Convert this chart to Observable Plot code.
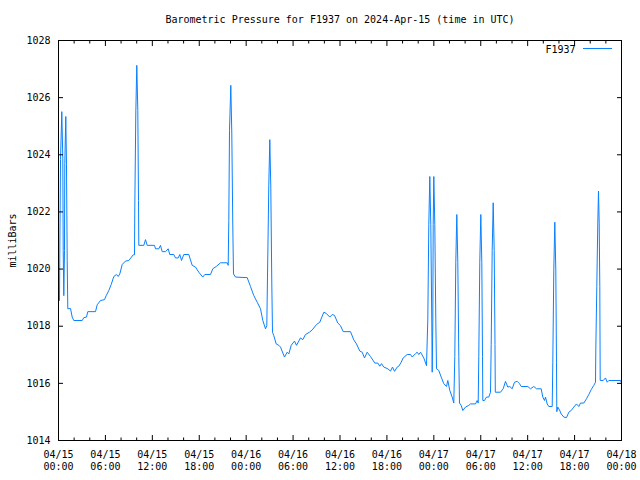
<!DOCTYPE html>
<html>
<head>
<meta charset="utf-8">
<script src="https://cdn.jsdelivr.net/npm/d3@7"></script>
<script src="https://cdn.jsdelivr.net/npm/@observablehq/plot@0.6"></script>
<style>
  html, body { margin: 0; padding: 0; background: #ffffff; }
  #chart svg { display: block; }
</style>
</head>
<body>
<div id="chart"></div>
<script>
const title = "Barometric Pressure for F1937 on 2024-Apr-15 (time in UTC)";
const seriesName = "F1937";
const yLabel = "milliBars";
const startTime = "2024-04-15T00:00:00Z";

// hours since 2024-04-15 00:00 UTC
const hours = [
  0.128, 0.166, 0.256, 0.422, 0.550, 0.601, 0.678, 0.767, 0.806, 0.934, 1.023, 1.113, 1.189,
  1.535, 1.752, 1.957, 3.031, 3.236, 3.581, 3.747, 4.732, 4.949, 5.371, 5.883, 6.100, 6.433,
  6.740, 7.072, 7.417, 7.635, 7.839, 8.146, 8.568, 8.990, 9.336, 9.553, 9.719,
  9.758, 9.886, 10.013, 10.141, 10.231, 10.269,
  10.909, 11.126, 11.343, 12.277, 12.405, 12.827, 13.044, 13.262, 13.684, 14.029, 14.234,
  14.745, 14.963, 15.308, 15.513, 15.730, 16.024, 16.664, 17.098, 17.520, 17.942, 18.454,
  18.710, 19.439, 19.733, 20.168, 20.718, 21.574, 21.702,
  21.779, 21.869, 22.035, 22.163, 22.291, 22.380,
  22.636, 24.132, 24.554, 24.976, 25.411, 25.833, 26.127, 26.472, 26.639,
  26.728, 26.894, 27.022, 27.150, 27.278, 27.368,
  27.534, 27.841, 28.173, 28.391, 28.902, 29.248, 29.452, 29.759, 30.181, 30.437, 30.948,
  31.242, 31.588, 32.099, 32.445, 32.995, 33.417, 33.928, 34.235, 34.696, 35.002, 35.297,
  35.719, 36.064, 36.409, 37.343, 37.765, 38.110, 38.532, 38.839, 39.133, 39.478, 39.900,
  40.450, 40.834, 41.090, 41.307, 41.601, 42.113, 42.458, 42.714, 42.970, 43.315, 43.519,
  43.826, 44.082, 44.593, 45.016, 45.233, 45.655, 45.872, 46.077, 46.295, 46.717, 47.062,
  47.228, 47.356, 47.484, 47.612, 47.740, 47.791, 47.868, 47.919, 47.996, 48.124, 48.252, 48.341,
  48.635, 48.942, 49.274, 49.620, 49.786, 50.042, 50.349, 50.553,
  50.681, 50.809, 50.937, 51.065, 51.193, 51.282,
  51.500, 51.705, 52.050, 52.472, 52.689, 53.328, 53.546, 53.674,
  53.750, 53.878, 54.006, 54.134, 54.224, 54.262,
  54.479, 54.735, 55.029, 55.247,
  55.336, 55.464, 55.592, 55.720, 55.822, 55.861,
  56.526, 56.871, 57.165, 57.459, 57.715, 58.022, 58.316, 58.661, 58.955, 59.172, 60.017,
  60.362, 60.784, 61.130, 61.731, 61.935, 62.153, 62.281, 62.498, 62.703, 63.138,
  63.214, 63.342, 63.470, 63.598, 63.687, 63.726,
  63.854, 64.071, 64.289, 64.621, 64.966, 65.262, 65.568, 65.900, 66.245, 66.539, 66.757,
  67.178, 67.524, 67.818, 68.125, 68.457, 68.675,
  68.713, 68.841, 68.969, 69.058, 69.148, 69.225, 69.276,
  69.660, 69.954, 70.171, 70.376, 71.872, 72.000
];

// pressure in milliBars
const pressure = [
  1018.90, 1020.56, 1023.83, 1025.51, 1023.88, 1020.65, 1019.07, 1020.65, 1023.70, 1025.34, 1023.65, 1020.30, 1018.61,
  1018.62, 1018.32, 1018.20, 1018.20, 1018.30, 1018.32, 1018.51, 1018.51, 1018.75, 1018.90, 1018.93, 1019.07, 1019.25,
  1019.46, 1019.74, 1019.81, 1019.74, 1019.83, 1020.16, 1020.28, 1020.30, 1020.42, 1020.50, 1020.50,
  1022.17, 1025.46, 1027.13, 1025.55, 1022.40, 1020.83,
  1020.83, 1021.03, 1020.83, 1020.83, 1020.71, 1020.71, 1020.83, 1020.61, 1020.61, 1020.71, 1020.51,
  1020.51, 1020.39, 1020.39, 1020.51, 1020.30, 1020.51, 1020.51, 1020.13, 1020.07, 1019.89, 1019.72,
  1019.81, 1019.81, 1020.01, 1020.09, 1020.22, 1020.22, 1020.13,
  1021.70, 1024.85, 1026.43, 1024.73, 1021.47, 1019.83,
  1019.72, 1019.70, 1019.39, 1019.07, 1018.84, 1018.61, 1018.20, 1017.91, 1018.02,
  1019.72, 1022.93, 1024.53, 1022.87, 1019.48, 1017.79,
  1017.67, 1017.38, 1017.33, 1017.27, 1016.92, 1017.09, 1017.03, 1017.33, 1017.48, 1017.33, 1017.59,
  1017.53, 1017.71, 1017.79, 1017.87, 1018.06, 1018.14, 1018.49, 1018.45, 1018.32, 1018.41, 1018.38,
  1018.11, 1018.02, 1017.81, 1017.81, 1017.52, 1017.38, 1017.13, 1017.09, 1016.89, 1017.09, 1016.94,
  1016.71, 1016.71, 1016.60, 1016.69, 1016.57, 1016.51, 1016.43, 1016.57, 1016.42, 1016.57, 1016.60,
  1016.74, 1016.89, 1017.01, 1017.01, 1016.92, 1017.04, 1017.09, 1017.01, 1017.09, 1016.89, 1016.62,
  1018.22, 1021.55, 1023.24, 1021.55, 1018.11, 1016.39, 1018.11, 1021.55, 1023.24, 1021.55, 1018.22, 1016.51,
  1016.45, 1016.22, 1015.99, 1015.89, 1016.10, 1015.75, 1015.52, 1015.31,
  1016.94, 1020.24, 1021.91, 1020.24, 1016.94, 1015.31,
  1015.23, 1015.05, 1015.17, 1015.23, 1015.28, 1015.28, 1015.40, 1015.31,
  1016.94, 1020.24, 1021.91, 1020.24, 1016.94, 1015.40,
  1015.40, 1015.52, 1015.52, 1015.69,
  1017.36, 1020.65, 1022.32, 1020.65, 1017.36, 1015.69,
  1015.69, 1015.81, 1016.07, 1015.87, 1015.89, 1015.81, 1016.04, 1016.07, 1015.99, 1015.89, 1015.89,
  1015.81, 1015.89, 1015.81, 1015.81, 1015.52, 1015.40, 1015.52, 1015.28, 1015.19, 1015.19,
  1016.74, 1019.97, 1021.64, 1019.97, 1016.74, 1015.01,
  1015.17, 1015.07, 1014.93, 1014.82, 1014.80, 1014.99, 1015.05, 1015.17, 1015.28, 1015.19, 1015.31,
  1015.31, 1015.46, 1015.61, 1015.78, 1015.93, 1016.04,
  1017.17, 1019.39, 1021.61, 1022.73, 1021.61, 1019.39, 1016.10,
  1016.10, 1016.19, 1016.04, 1016.10, 1016.10, 1016.01
];

const yTicks = [1014, 1016, 1018, 1020, 1022, 1024, 1026, 1028];
const xMajorHours = [0, 6, 12, 18, 24, 30, 36, 42, 48, 54, 60, 66, 72];
const xMinorHours = d3.range(0, 73, 2);

const lineColor = "#0a80ff";
const fontFamily = "'DejaVu Sans Mono', 'Liberation Mono', monospace";

const t0 = Date.parse(startTime);
const toDate = h => new Date(t0 + h * 3600e3);
const data = hours.map((h, i) => ({t: toDate(h), v: pressure[i]}));
const majorX = xMajorHours.map(toDate);
const minorX = xMinorHours.filter(h => h % 6 !== 0).map(toDate);
const fmt = d3.utcFormat("%m/%d\n%H:%M");
const blank = () => "";

const W = 640, H = 480, mL = 58, mR = 19, mT = 40, mB = 40;

const svg = Plot.plot({
  width: W, height: H,
  marginLeft: mL, marginRight: mR, marginTop: mT, marginBottom: mB,
  style: {fontFamily, fontSize: "10px", background: "#ffffff", color: "#000000"},
  x: {type: "utc", domain: [toDate(0), toDate(72)]},
  y: {domain: [1014, 1028]},
  marks: [
    Plot.line(data, {x: "t", y: "v", stroke: lineColor, strokeWidth: 1}),
    Plot.axisX({ticks: majorX, tickSize: 0, tickPadding: 9, tickFormat: fmt, label: null, lineHeight: 1.2}),
    Plot.axisX({ticks: majorX, tickSize: -5, tickFormat: blank, label: null}),
    Plot.axisX({ticks: minorX, tickSize: -2.5, tickFormat: blank, label: null}),
    Plot.axisX({anchor: "top", ticks: majorX, tickSize: -5, tickFormat: blank, label: null}),
    Plot.axisX({anchor: "top", ticks: minorX, tickSize: -2.5, tickFormat: blank, label: null}),
    Plot.axisY({ticks: yTicks, tickSize: 0, tickPadding: 8, tickFormat: d => String(d), label: null}),
    Plot.axisY({ticks: yTicks, tickSize: -5, tickFormat: blank, label: null}),
    Plot.axisY({anchor: "right", ticks: yTicks, tickSize: -5, tickFormat: blank, label: null}),
    Plot.frame({stroke: "#000000", strokeWidth: 1}),
    Plot.text([title], {frameAnchor: "top", lineAnchor: "middle", dy: -21}),
    Plot.text([yLabel], {frameAnchor: "left", textAnchor: "middle", lineAnchor: "middle", dx: -46, rotate: -90}),
    Plot.text([seriesName], {frameAnchor: "top-right", lineAnchor: "middle", dx: -46, dy: 9, textAnchor: "end"})
  ]
});

// legend swatch next to the series name
d3.select(svg).append("line")
  .attr("x1", W - mR - 38).attr("x2", W - mR - 9)
  .attr("y1", mT + 8.5).attr("y2", mT + 8.5)
  .attr("stroke", lineColor).attr("stroke-width", 1);

document.getElementById("chart").appendChild(svg);
</script>
</body>
</html>
